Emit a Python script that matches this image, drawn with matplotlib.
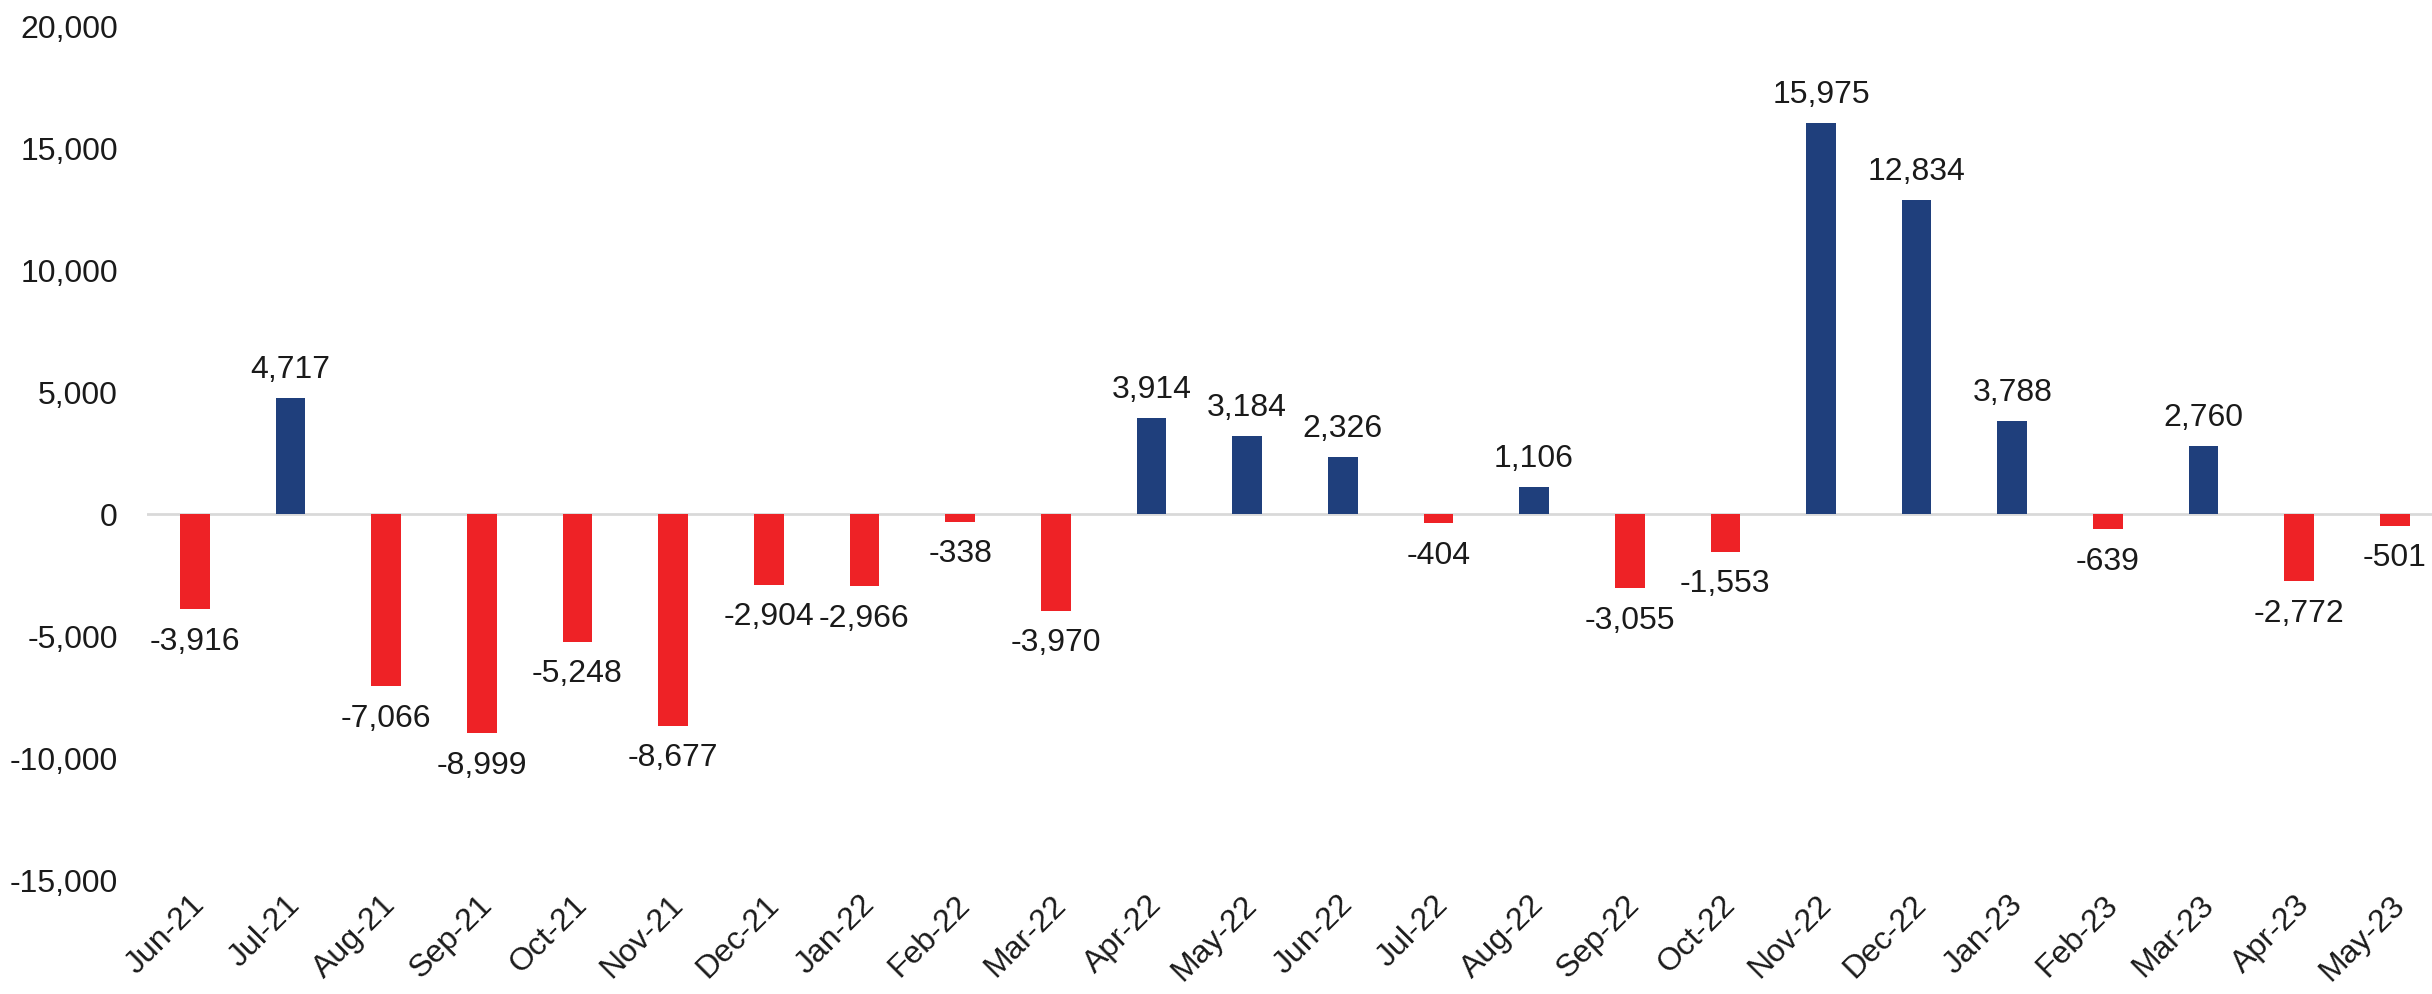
import matplotlib
matplotlib.use("Agg")
import matplotlib.pyplot as plt
from matplotlib.transforms import ScaledTranslation

months = ["Jun-21", "Jul-21", "Aug-21", "Sep-21", "Oct-21", "Nov-21", "Dec-21",
          "Jan-22", "Feb-22", "Mar-22", "Apr-22", "May-22", "Jun-22", "Jul-22",
          "Aug-22", "Sep-22", "Oct-22", "Nov-22", "Dec-22", "Jan-23", "Feb-23",
          "Mar-23", "Apr-23", "May-23"]
values = [-3916, 4717, -7066, -8999, -5248, -8677, -2904, -2966, -338, -3970,
          3914, 3184, 2326, -404, 1106, -3055, -1553, 15975, 12834, 3788, -639,
          2760, -2772, -501]
yticks = [-15000, -10000, -5000, 0, 5000, 10000, 15000, 20000]
title = "Net buying / selling pattern of FPIs in Indian equity (Rs. cr)"

BLUE = "#1F3F7C"
RED = "#EE2226"

plt.rcParams['font.family'] = ['Liberation Sans', 'DejaVu Sans']

W, H = 2432, 995
fig = plt.figure(figsize=(W / 100, H / 100), dpi=100)
left = 147 / W
bottom = 1 - 881 / H
top = 1 - 26 / H
ax = fig.add_axes([left, bottom, 1 - left, top - bottom])

x = list(range(len(months)))
colors = [BLUE if v >= 0 else RED for v in values]
ax.bar(x, values, width=0.31, color=colors, zorder=3)
ax.axhline(0, color="#d9d9d9", linewidth=2, zorder=2)

ax.set_ylim(-15000, 20000)
ax.set_xlim(-0.5, (W - 195) / 95.65)
ax.set_yticks(yticks)
ax.set_yticklabels([f"{t:,}" for t in yticks], fontsize=23, color="#1a1a1a")
ax.set_xticks(x)
ax.set_xticklabels(months, rotation=45, ha="right", va="center",
                   rotation_mode="anchor", fontsize=23, color="#1a1a1a")
ax.tick_params(axis="y", length=0, pad=21)
ax.tick_params(axis="x", length=0, pad=14)
shift = ScaledTranslation(4 / 72, 0, fig.dpi_scale_trans)
for lbl in ax.get_xticklabels():
    lbl.set_transform(lbl.get_transform() + shift)
for s in ax.spines.values():
    s.set_visible(False)

for xi, v in zip(x, values):
    if v >= 0:
        ax.annotate(f"{v:,}", (xi, v), xytext=(0, 10), textcoords="offset points",
                    ha="center", va="bottom", fontsize=23, color="#1a1a1a")
    else:
        ax.annotate(f"{v:,}", (xi, v), xytext=(0, -12), textcoords="offset points",
                    ha="center", va="top", fontsize=23, color="#1a1a1a")

fig.text(1310 / W, 1.008, title, ha="center", va="baseline", fontsize=24,
         fontweight="bold", color=BLUE)

fig.savefig("out.png", dpi=100)
